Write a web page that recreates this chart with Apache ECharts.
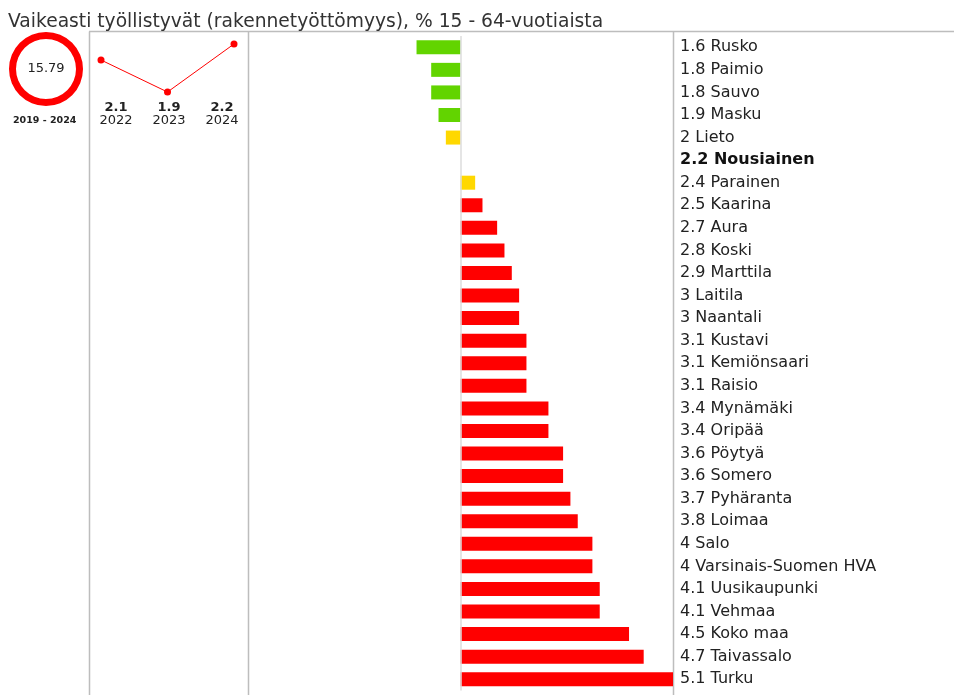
<!DOCTYPE html>
<html>
<head>
<meta charset="utf-8">
<script src="https://cdn.jsdelivr.net/npm/echarts@6/dist/echarts.min.js"></script>
<style>
    html, body { margin: 0; padding: 0; background: #fff; }
    #main { width: 954px; height: 695px; }
</style>
</head>
<body>
<div id="main"></div>
<script>
// otsikko ja vertailukunta
var chartTitle = 'Vaikeasti työllistyvät (rakennetyöttömyys), % 15 - 64-vuotiaista';
var refName = 'Nousiainen';

// kunnat ja arvot
var names = ['Rusko', 'Paimio', 'Sauvo', 'Masku', 'Lieto', 'Nousiainen', 'Parainen', 'Kaarina', 'Aura', 'Koski',
    'Marttila', 'Laitila', 'Naantali', 'Kustavi', 'Kemiönsaari', 'Raisio', 'Mynämäki', 'Oripää', 'Pöytyä', 'Somero',
    'Pyhäranta', 'Loimaa', 'Salo', 'Varsinais-Suomen HVA', 'Uusikaupunki', 'Vehmaa', 'Koko maa', 'Taivassalo', 'Turku'];
var values = [1.6, 1.8, 1.8, 1.9, 2, 2.2, 2.4, 2.5, 2.7, 2.8,
    2.9, 3, 3, 3.1, 3.1, 3.1, 3.4, 3.4, 3.6, 3.6,
    3.7, 3.8, 4, 4, 4.1, 4.1, 4.5, 4.7, 5.1];

// kehitys
var years = ['2022', '2023', '2024'];
var trend = [2.1, 1.9, 2.2];

// rengas
var ringValue = 15.79;
var ringPeriod = '2019 - 2024';

var refValue = values[names.indexOf(refName)];

var barData = [];
for (var i = 0; i < values.length; i++) {
    var diff = Math.round((values[i] - refValue) * 100) / 100;
    var color = '#ff0000';
    if (Math.abs(values[i] - refValue) <= refValue * 0.1) {
        color = '#ffd800';
    } else if (values[i] < refValue) {
        color = '#62d400';
    }
    barData.push({ value: diff, itemStyle: { color: color } });
}

var sepColor = '#bdbdbd';
function sepLine(x1, y1, x2, y2) {
    return {
        type: 'line', silent: true,
        shape: { x1: x1, y1: y1, x2: x2, y2: y2 },
        style: { stroke: sepColor, lineWidth: 1.5 }
    };
}

var myChart = echarts.init(document.getElementById('main'));
var option = {
    animation: false,
    textStyle: { fontFamily: 'DejaVu Sans', color: '#333' },
    title: {
        text: chartTitle,
        left: 3, top: 8,
        textStyle: { fontFamily: 'DejaVu Sans', fontSize: 18.7, fontWeight: 'normal', color: '#333' }
    },
    graphic: [
        sepLine(89, 31.5, 954, 31.5),
        sepLine(89.5, 31.5, 89.5, 695),
        sepLine(248.5, 31.5, 248.5, 695),
        sepLine(673.5, 31.5, 673.5, 695),
        {
            type: 'text', left: 13, top: 116, silent: true,
            style: { text: ringPeriod, font: 'bold 9.5px "DejaVu Sans"', fill: '#222' }
        }
    ],
    grid: [
        { left: 248, width: 425, top: 36, height: 654.5 },
        { left: 101, width: 133, top: 44, height: 48 },
        { left: 89.5, width: 159, top: 44, height: 48 }
    ],
    xAxis: [
        { gridIndex: 0, type: 'value', min: -2.9, max: 2.9, show: false },
        {
            gridIndex: 1, type: 'category', data: years, boundaryGap: false,
            axisLine: { show: false }, axisTick: { show: false }, splitLine: { show: false },
            axisLabel: { show: false }
        },
        {
            gridIndex: 2, type: 'category', data: years,
            axisLine: { show: false }, axisTick: { show: false }, splitLine: { show: false },
            axisLabel: {
                margin: 9, interval: 0, hideOverlap: false,
                formatter: function (val, idx) {
                    return '{v|' + trend[idx] + '}\n{y|' + val + '}';
                },
                rich: {
                    v: { fontSize: 13, fontWeight: 'bold', color: '#222', lineHeight: 13, fontFamily: 'DejaVu Sans' },
                    y: { fontSize: 13, color: '#222', lineHeight: 13, fontFamily: 'DejaVu Sans' }
                }
            }
        }
    ],
    yAxis: [
        {
            gridIndex: 0, type: 'category', data: names, inverse: true,
            axisLine: { show: false }, axisTick: { show: false }, axisLabel: { show: false }
        },
        {
            gridIndex: 0, type: 'category', data: names, inverse: true, position: 'right',
            axisLine: { show: false }, axisTick: { show: false },
            axisLabel: {
                margin: 7, fontSize: 16, color: '#222', interval: 0,
                formatter: function (val, idx) {
                    var s = values[idx] + ' ' + val;
                    if (val == refName) {
                        return '{b|' + s + '}';
                    }
                    return s;
                },
                rich: {
                    b: { fontSize: 16, fontWeight: 'bold', color: '#111', fontFamily: 'DejaVu Sans' }
                }
            }
        },
        {
            gridIndex: 1, type: 'value', show: false,
            min: Math.min.apply(null, trend), max: Math.max.apply(null, trend)
        },
        { gridIndex: 2, type: 'value', show: false }
    ],
    series: [
        {
            type: 'bar', xAxisIndex: 0, yAxisIndex: 0,
            data: barData, barWidth: 14,
            markLine: {
                silent: true, symbol: 'none', label: { show: false },
                lineStyle: { color: '#dcdcdc', type: 'solid', width: 1.5 },
                data: [{ xAxis: 0 }]
            }
        },
        {
            type: 'line', xAxisIndex: 1, yAxisIndex: 2,
            data: trend,
            symbol: 'circle', symbolSize: 7,
            itemStyle: { color: '#ff0000' },
            lineStyle: { color: '#ff0000', width: 1 }
        },
        {
            type: 'pie', silent: true,
            center: [46, 69], radius: [30, 37],
            label: {
                show: true, position: 'center', formatter: '{c}',
                fontSize: 13, color: '#222', fontFamily: 'DejaVu Sans'
            },
            labelLine: { show: false },
            itemStyle: { color: '#ff0000' },
            data: [{ value: ringValue, name: ringPeriod }]
        }
    ]
};
myChart.setOption(option);
</script>
</body>
</html>
